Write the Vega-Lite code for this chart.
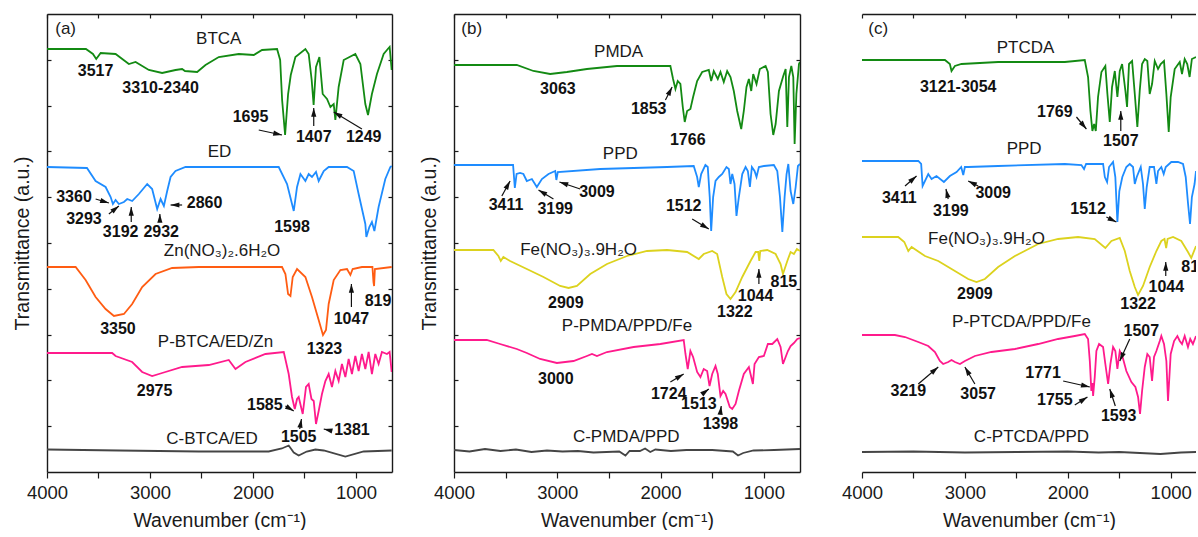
{
"$schema": "https://vega.github.io/schema/vega-lite/v6.json",
"padding": {"left": 12, "top": 13, "right": 0, "bottom": 0},
"background": "white",
"bounds": "flush",
"spacing": 62,
"config": {
  "view": {"stroke": null},
  "font": "Liberation Sans",
  "axis": {"domainColor": "#1a1a1a", "domainWidth": 1.4, "tickColor": "#1a1a1a", "tickWidth": 1.2, "grid": false, "labelFont": "Liberation Sans", "titleFont": "Liberation Sans", "labelColor": "#1a1a1a", "titleColor": "#1a1a1a", "titleFontWeight": "normal", "labelFontSize": 18.5, "titleFontSize": 19.5}
},
"datasets": {
"ca": [
{"s":"BTCA","x":4000,"y":423},{"s":"BTCA","x":3622,"y":423},{"s":"BTCA","x":3554,"y":418},{"s":"BTCA","x":3522,"y":413},{"s":"BTCA","x":3479,"y":419},{"s":"BTCA","x":3334,"y":418},{"s":"BTCA","x":3205,"y":408},{"s":"BTCA","x":3140,"y":410},{"s":"BTCA","x":3011,"y":402},{"s":"BTCA","x":2882,"y":399},{"s":"BTCA","x":2752,"y":402},{"s":"BTCA","x":2688,"y":403},{"s":"BTCA","x":2660,"y":401},{"s":"BTCA","x":2542,"y":400},{"s":"BTCA","x":2461,"y":407},{"s":"BTCA","x":2332,"y":415},{"s":"BTCA","x":2138,"y":418},{"s":"BTCA","x":1992,"y":417},{"s":"BTCA","x":1912,"y":422},{"s":"BTCA","x":1766,"y":423},{"s":"BTCA","x":1736,"y":412},{"s":"BTCA","x":1717,"y":372},{"s":"BTCA","x":1688,"y":337},{"s":"BTCA","x":1659,"y":378},{"s":"BTCA","x":1633,"y":397},{"s":"BTCA","x":1588,"y":415},{"s":"BTCA","x":1491,"y":423},{"s":"BTCA","x":1459,"y":418},{"s":"BTCA","x":1430,"y":392},{"s":"BTCA","x":1411,"y":367},{"s":"BTCA","x":1388,"y":405},{"s":"BTCA","x":1355,"y":415},{"s":"BTCA","x":1323,"y":378},{"s":"BTCA","x":1281,"y":373},{"s":"BTCA","x":1248,"y":365},{"s":"BTCA","x":1216,"y":368},{"s":"BTCA","x":1200,"y":352},{"s":"BTCA","x":1168,"y":385},{"s":"BTCA","x":1119,"y":412},{"s":"BTCA","x":1006,"y":418},{"s":"BTCA","x":957,"y":408},{"s":"BTCA","x":909,"y":368},{"s":"BTCA","x":883,"y":357},{"s":"BTCA","x":845,"y":378},{"s":"BTCA","x":796,"y":398},{"s":"BTCA","x":731,"y":418},{"s":"BTCA","x":699,"y":422},{"s":"BTCA","x":673,"y":425},{"s":"BTCA","x":653,"y":402},
{"s":"ED","x":4000,"y":305},{"s":"ED","x":3612,"y":304},{"s":"ED","x":3528,"y":291},{"s":"ED","x":3431,"y":285},{"s":"ED","x":3382,"y":275},{"s":"ED","x":3360,"y":268},{"s":"ED","x":3334,"y":272},{"s":"ED","x":3302,"y":268},{"s":"ED","x":3253,"y":270},{"s":"ED","x":3221,"y":273},{"s":"ED","x":3173,"y":271},{"s":"ED","x":3108,"y":278},{"s":"ED","x":3027,"y":288},{"s":"ED","x":2979,"y":283},{"s":"ED","x":2930,"y":263},{"s":"ED","x":2897,"y":273},{"s":"ED","x":2865,"y":266},{"s":"ED","x":2833,"y":281},{"s":"ED","x":2800,"y":295},{"s":"ED","x":2752,"y":301},{"s":"ED","x":2655,"y":305},{"s":"ED","x":1750,"y":305},{"s":"ED","x":1669,"y":288},{"s":"ED","x":1604,"y":261},{"s":"ED","x":1572,"y":285},{"s":"ED","x":1539,"y":298},{"s":"ED","x":1491,"y":291},{"s":"ED","x":1459,"y":298},{"s":"ED","x":1427,"y":295},{"s":"ED","x":1388,"y":300},{"s":"ED","x":1362,"y":291},{"s":"ED","x":1313,"y":301},{"s":"ED","x":1265,"y":305},{"s":"ED","x":1087,"y":305},{"s":"ED","x":1022,"y":301},{"s":"ED","x":974,"y":278},{"s":"ED","x":909,"y":248},{"s":"ED","x":899,"y":235},{"s":"ED","x":870,"y":245},{"s":"ED","x":845,"y":250},{"s":"ED","x":821,"y":241},{"s":"ED","x":780,"y":265},{"s":"ED","x":715,"y":293},{"s":"ED","x":666,"y":305},{"s":"ED","x":653,"y":306},
{"s":"Zn","x":4000,"y":205},{"s":"Zn","x":3722,"y":205},{"s":"Zn","x":3625,"y":192},{"s":"Zn","x":3528,"y":175},{"s":"Zn","x":3431,"y":163},{"s":"Zn","x":3350,"y":156},{"s":"Zn","x":3253,"y":158},{"s":"Zn","x":3173,"y":168},{"s":"Zn","x":3076,"y":185},{"s":"Zn","x":2946,"y":198},{"s":"Zn","x":2785,"y":204},{"s":"Zn","x":2526,"y":205},{"s":"Zn","x":1718,"y":205},{"s":"Zn","x":1685,"y":198},{"s":"Zn","x":1659,"y":178},{"s":"Zn","x":1636,"y":176},{"s":"Zn","x":1614,"y":195},{"s":"Zn","x":1572,"y":203},{"s":"Zn","x":1491,"y":195},{"s":"Zn","x":1427,"y":175},{"s":"Zn","x":1362,"y":152},{"s":"Zn","x":1320,"y":137},{"s":"Zn","x":1291,"y":142},{"s":"Zn","x":1265,"y":168},{"s":"Zn","x":1216,"y":192},{"s":"Zn","x":1151,"y":202},{"s":"Zn","x":1087,"y":203},{"s":"Zn","x":1054,"y":197},{"s":"Zn","x":1032,"y":203},{"s":"Zn","x":942,"y":205},{"s":"Zn","x":840,"y":205},{"s":"Zn","x":830,"y":190},{"s":"Zn","x":824,"y":186},{"s":"Zn","x":816,"y":203},{"s":"Zn","x":653,"y":205},
{"s":"P-BTCA/ED/Zn","x":4000,"y":119},{"s":"P-BTCA/ED/Zn","x":3367,"y":119},{"s":"P-BTCA/ED/Zn","x":3334,"y":116},{"s":"P-BTCA/ED/Zn","x":3173,"y":110},{"s":"P-BTCA/ED/Zn","x":3076,"y":100},{"s":"P-BTCA/ED/Zn","x":2979,"y":96},{"s":"P-BTCA/ED/Zn","x":2882,"y":99},{"s":"P-BTCA/ED/Zn","x":2688,"y":105},{"s":"P-BTCA/ED/Zn","x":2429,"y":107},{"s":"P-BTCA/ED/Zn","x":2235,"y":112},{"s":"P-BTCA/ED/Zn","x":2170,"y":103},{"s":"P-BTCA/ED/Zn","x":2073,"y":110},{"s":"P-BTCA/ED/Zn","x":1879,"y":118},{"s":"P-BTCA/ED/Zn","x":1701,"y":120},{"s":"P-BTCA/ED/Zn","x":1653,"y":98},{"s":"P-BTCA/ED/Zn","x":1621,"y":75},{"s":"P-BTCA/ED/Zn","x":1594,"y":63},{"s":"P-BTCA/ED/Zn","x":1572,"y":73},{"s":"P-BTCA/ED/Zn","x":1556,"y":75},{"s":"P-BTCA/ED/Zn","x":1517,"y":58},{"s":"P-BTCA/ED/Zn","x":1485,"y":85},{"s":"P-BTCA/ED/Zn","x":1459,"y":88},{"s":"P-BTCA/ED/Zn","x":1432,"y":73},{"s":"P-BTCA/ED/Zn","x":1410,"y":71},{"s":"P-BTCA/ED/Zn","x":1388,"y":48},{"s":"P-BTCA/ED/Zn","x":1362,"y":61},{"s":"P-BTCA/ED/Zn","x":1330,"y":78},{"s":"P-BTCA/ED/Zn","x":1297,"y":91},{"s":"P-BTCA/ED/Zn","x":1265,"y":98},{"s":"P-BTCA/ED/Zn","x":1233,"y":85},{"s":"P-BTCA/ED/Zn","x":1200,"y":101},{"s":"P-BTCA/ED/Zn","x":1168,"y":91},{"s":"P-BTCA/ED/Zn","x":1136,"y":108},{"s":"P-BTCA/ED/Zn","x":1103,"y":95},{"s":"P-BTCA/ED/Zn","x":1071,"y":113},{"s":"P-BTCA/ED/Zn","x":1039,"y":98},{"s":"P-BTCA/ED/Zn","x":1006,"y":116},{"s":"P-BTCA/ED/Zn","x":974,"y":101},{"s":"P-BTCA/ED/Zn","x":942,"y":118},{"s":"P-BTCA/ED/Zn","x":909,"y":103},{"s":"P-BTCA/ED/Zn","x":877,"y":120},{"s":"P-BTCA/ED/Zn","x":845,"y":98},{"s":"P-BTCA/ED/Zn","x":812,"y":118},{"s":"P-BTCA/ED/Zn","x":780,"y":108},{"s":"P-BTCA/ED/Zn","x":748,"y":120},{"s":"P-BTCA/ED/Zn","x":699,"y":118},{"s":"P-BTCA/ED/Zn","x":673,"y":120},{"s":"P-BTCA/ED/Zn","x":653,"y":100},
{"s":"C-BTCA/ED","x":4000,"y":22.5},{"s":"C-BTCA/ED","x":3300,"y":21.5},{"s":"C-BTCA/ED","x":2526,"y":20.5},{"s":"C-BTCA/ED","x":1847,"y":20.5},{"s":"C-BTCA/ED","x":1720,"y":23.5},{"s":"C-BTCA/ED","x":1653,"y":26.5},{"s":"C-BTCA/ED","x":1604,"y":19.5},{"s":"C-BTCA/ED","x":1556,"y":16.5},{"s":"C-BTCA/ED","x":1478,"y":20.5},{"s":"C-BTCA/ED","x":1394,"y":22.5},{"s":"C-BTCA/ED","x":1313,"y":21.5},{"s":"C-BTCA/ED","x":1103,"y":15.5},{"s":"C-BTCA/ED","x":925,"y":20.5},{"s":"C-BTCA/ED","x":653,"y":21.5}
],
"cb": [
{"s":"PMDA","x":4000,"y":407},{"s":"PMDA","x":3392,"y":407},{"s":"PMDA","x":3231,"y":401},{"s":"PMDA","x":3069,"y":398},{"s":"PMDA","x":2907,"y":400},{"s":"PMDA","x":2713,"y":403},{"s":"PMDA","x":2422,"y":406},{"s":"PMDA","x":1905,"y":406},{"s":"PMDA","x":1879,"y":393},{"s":"PMDA","x":1856,"y":383},{"s":"PMDA","x":1834,"y":391},{"s":"PMDA","x":1808,"y":388},{"s":"PMDA","x":1785,"y":365},{"s":"PMDA","x":1766,"y":350},{"s":"PMDA","x":1743,"y":361},{"s":"PMDA","x":1711,"y":363},{"s":"PMDA","x":1685,"y":375},{"s":"PMDA","x":1646,"y":391},{"s":"PMDA","x":1597,"y":400},{"s":"PMDA","x":1533,"y":402},{"s":"PMDA","x":1510,"y":391},{"s":"PMDA","x":1485,"y":401},{"s":"PMDA","x":1446,"y":393},{"s":"PMDA","x":1420,"y":400},{"s":"PMDA","x":1388,"y":390},{"s":"PMDA","x":1355,"y":401},{"s":"PMDA","x":1323,"y":395},{"s":"PMDA","x":1291,"y":381},{"s":"PMDA","x":1258,"y":361},{"s":"PMDA","x":1219,"y":343},{"s":"PMDA","x":1194,"y":361},{"s":"PMDA","x":1168,"y":385},{"s":"PMDA","x":1145,"y":393},{"s":"PMDA","x":1122,"y":381},{"s":"PMDA","x":1103,"y":398},{"s":"PMDA","x":1071,"y":388},{"s":"PMDA","x":1039,"y":403},{"s":"PMDA","x":983,"y":406},{"s":"PMDA","x":961,"y":400},{"s":"PMDA","x":935,"y":358},{"s":"PMDA","x":909,"y":337},{"s":"PMDA","x":886,"y":348},{"s":"PMDA","x":854,"y":381},{"s":"PMDA","x":812,"y":396},{"s":"PMDA","x":789,"y":403},{"s":"PMDA","x":773,"y":345},{"s":"PMDA","x":757,"y":395},{"s":"PMDA","x":734,"y":406},{"s":"PMDA","x":715,"y":395},{"s":"PMDA","x":702,"y":328},{"s":"PMDA","x":685,"y":378},{"s":"PMDA","x":660,"y":408},{"s":"PMDA","x":650,"y":410},
{"s":"PPD","x":4000,"y":307},{"s":"PPD","x":3428,"y":307},{"s":"PPD","x":3411,"y":284},{"s":"PPD","x":3394,"y":298},{"s":"PPD","x":3360,"y":299},{"s":"PPD","x":3328,"y":298},{"s":"PPD","x":3295,"y":291},{"s":"PPD","x":3246,"y":293},{"s":"PPD","x":3198,"y":285},{"s":"PPD","x":3149,"y":293},{"s":"PPD","x":3085,"y":298},{"s":"PPD","x":3020,"y":301},{"s":"PPD","x":3009,"y":292},{"s":"PPD","x":2995,"y":300},{"s":"PPD","x":2584,"y":303},{"s":"PPD","x":1937,"y":305},{"s":"PPD","x":1679,"y":306},{"s":"PPD","x":1646,"y":295},{"s":"PPD","x":1630,"y":285},{"s":"PPD","x":1607,"y":298},{"s":"PPD","x":1566,"y":307},{"s":"PPD","x":1543,"y":305},{"s":"PPD","x":1524,"y":275},{"s":"PPD","x":1510,"y":241},{"s":"PPD","x":1491,"y":275},{"s":"PPD","x":1468,"y":291},{"s":"PPD","x":1436,"y":295},{"s":"PPD","x":1403,"y":298},{"s":"PPD","x":1362,"y":305},{"s":"PPD","x":1339,"y":303},{"s":"PPD","x":1323,"y":288},{"s":"PPD","x":1306,"y":298},{"s":"PPD","x":1284,"y":288},{"s":"PPD","x":1265,"y":256},{"s":"PPD","x":1242,"y":275},{"s":"PPD","x":1209,"y":298},{"s":"PPD","x":1177,"y":305},{"s":"PPD","x":1155,"y":301},{"s":"PPD","x":1135,"y":285},{"s":"PPD","x":1116,"y":305},{"s":"PPD","x":1090,"y":301},{"s":"PPD","x":1071,"y":295},{"s":"PPD","x":1048,"y":305},{"s":"PPD","x":999,"y":306},{"s":"PPD","x":903,"y":307},{"s":"PPD","x":870,"y":301},{"s":"PPD","x":844,"y":275},{"s":"PPD","x":821,"y":240},{"s":"PPD","x":799,"y":275},{"s":"PPD","x":780,"y":298},{"s":"PPD","x":763,"y":308},{"s":"PPD","x":741,"y":281},{"s":"PPD","x":715,"y":268},{"s":"PPD","x":692,"y":285},{"s":"PPD","x":670,"y":306},{"s":"PPD","x":650,"y":308},
{"s":"Fe","x":4000,"y":222},{"s":"Fe","x":3619,"y":222},{"s":"Fe","x":3570,"y":216},{"s":"Fe","x":3547,"y":211},{"s":"Fe","x":3522,"y":215},{"s":"Fe","x":3457,"y":211},{"s":"Fe","x":3295,"y":203},{"s":"Fe","x":3134,"y":195},{"s":"Fe","x":2972,"y":186},{"s":"Fe","x":2891,"y":184},{"s":"Fe","x":2810,"y":186},{"s":"Fe","x":2681,"y":198},{"s":"Fe","x":2519,"y":208},{"s":"Fe","x":2325,"y":216},{"s":"Fe","x":2131,"y":221},{"s":"Fe","x":1937,"y":222},{"s":"Fe","x":1743,"y":220},{"s":"Fe","x":1630,"y":213},{"s":"Fe","x":1582,"y":218},{"s":"Fe","x":1500,"y":221},{"s":"Fe","x":1452,"y":218},{"s":"Fe","x":1403,"y":195},{"s":"Fe","x":1362,"y":178},{"s":"Fe","x":1323,"y":173},{"s":"Fe","x":1274,"y":180},{"s":"Fe","x":1209,"y":195},{"s":"Fe","x":1129,"y":211},{"s":"Fe","x":1080,"y":220},{"s":"Fe","x":1055,"y":220},{"s":"Fe","x":1044,"y":211},{"s":"Fe","x":1035,"y":221},{"s":"Fe","x":967,"y":222},{"s":"Fe","x":886,"y":218},{"s":"Fe","x":838,"y":208},{"s":"Fe","x":815,"y":198},{"s":"Fe","x":773,"y":211},{"s":"Fe","x":741,"y":220},{"s":"Fe","x":709,"y":218},{"s":"Fe","x":680,"y":223},{"s":"Fe","x":650,"y":221},
{"s":"P-PMDA/PPD/Fe","x":4000,"y":132},{"s":"P-PMDA/PPD/Fe","x":3683,"y":132},{"s":"P-PMDA/PPD/Fe","x":3554,"y":128},{"s":"P-PMDA/PPD/Fe","x":3392,"y":123},{"s":"P-PMDA/PPD/Fe","x":3295,"y":119},{"s":"P-PMDA/PPD/Fe","x":3166,"y":113},{"s":"P-PMDA/PPD/Fe","x":3004,"y":109},{"s":"P-PMDA/PPD/Fe","x":2843,"y":111},{"s":"P-PMDA/PPD/Fe","x":2713,"y":116},{"s":"P-PMDA/PPD/Fe","x":2664,"y":118},{"s":"P-PMDA/PPD/Fe","x":2616,"y":116},{"s":"P-PMDA/PPD/Fe","x":2519,"y":120},{"s":"P-PMDA/PPD/Fe","x":2261,"y":125},{"s":"P-PMDA/PPD/Fe","x":2002,"y":128},{"s":"P-PMDA/PPD/Fe","x":1776,"y":132},{"s":"P-PMDA/PPD/Fe","x":1759,"y":118},{"s":"P-PMDA/PPD/Fe","x":1737,"y":103},{"s":"P-PMDA/PPD/Fe","x":1711,"y":121},{"s":"P-PMDA/PPD/Fe","x":1685,"y":115},{"s":"P-PMDA/PPD/Fe","x":1646,"y":100},{"s":"P-PMDA/PPD/Fe","x":1614,"y":95},{"s":"P-PMDA/PPD/Fe","x":1582,"y":103},{"s":"P-PMDA/PPD/Fe","x":1549,"y":101},{"s":"P-PMDA/PPD/Fe","x":1526,"y":86},{"s":"P-PMDA/PPD/Fe","x":1500,"y":98},{"s":"P-PMDA/PPD/Fe","x":1468,"y":106},{"s":"P-PMDA/PPD/Fe","x":1446,"y":98},{"s":"P-PMDA/PPD/Fe","x":1420,"y":76},{"s":"P-PMDA/PPD/Fe","x":1394,"y":81},{"s":"P-PMDA/PPD/Fe","x":1371,"y":78},{"s":"P-PMDA/PPD/Fe","x":1330,"y":65},{"s":"P-PMDA/PPD/Fe","x":1306,"y":63},{"s":"P-PMDA/PPD/Fe","x":1274,"y":68},{"s":"P-PMDA/PPD/Fe","x":1242,"y":81},{"s":"P-PMDA/PPD/Fe","x":1194,"y":98},{"s":"P-PMDA/PPD/Fe","x":1145,"y":105},{"s":"P-PMDA/PPD/Fe","x":1122,"y":95},{"s":"P-PMDA/PPD/Fe","x":1106,"y":88},{"s":"P-PMDA/PPD/Fe","x":1090,"y":108},{"s":"P-PMDA/PPD/Fe","x":1048,"y":115},{"s":"P-PMDA/PPD/Fe","x":1000,"y":116},{"s":"P-PMDA/PPD/Fe","x":961,"y":128},{"s":"P-PMDA/PPD/Fe","x":918,"y":128},{"s":"P-PMDA/PPD/Fe","x":870,"y":133},{"s":"P-PMDA/PPD/Fe","x":838,"y":125},{"s":"P-PMDA/PPD/Fe","x":815,"y":108},{"s":"P-PMDA/PPD/Fe","x":789,"y":115},{"s":"P-PMDA/PPD/Fe","x":767,"y":121},{"s":"P-PMDA/PPD/Fe","x":741,"y":126},{"s":"P-PMDA/PPD/Fe","x":709,"y":129},{"s":"P-PMDA/PPD/Fe","x":676,"y":133},{"s":"P-PMDA/PPD/Fe","x":650,"y":134},
{"s":"C-PMDA/PPD","x":4000,"y":22},{"s":"C-PMDA/PPD","x":3850,"y":20.5},{"s":"C-PMDA/PPD","x":3700,"y":23},{"s":"C-PMDA/PPD","x":3550,"y":21},{"s":"C-PMDA/PPD","x":3400,"y":22.5},{"s":"C-PMDA/PPD","x":3250,"y":20},{"s":"C-PMDA/PPD","x":3100,"y":21.5},{"s":"C-PMDA/PPD","x":2950,"y":20.5},{"s":"C-PMDA/PPD","x":2800,"y":21},{"s":"C-PMDA/PPD","x":2650,"y":19.5},{"s":"C-PMDA/PPD","x":2400,"y":20.5},{"s":"C-PMDA/PPD","x":2340,"y":16.5},{"s":"C-PMDA/PPD","x":2300,"y":21},{"s":"C-PMDA/PPD","x":2200,"y":21},{"s":"C-PMDA/PPD","x":2150,"y":23.5},{"s":"C-PMDA/PPD","x":2100,"y":20},{"s":"C-PMDA/PPD","x":2050,"y":22.5},{"s":"C-PMDA/PPD","x":1900,"y":21},{"s":"C-PMDA/PPD","x":1750,"y":22},{"s":"C-PMDA/PPD","x":1500,"y":22},{"s":"C-PMDA/PPD","x":1300,"y":20.5},{"s":"C-PMDA/PPD","x":1250,"y":16.5},{"s":"C-PMDA/PPD","x":1200,"y":19},{"s":"C-PMDA/PPD","x":1100,"y":21.5},{"s":"C-PMDA/PPD","x":900,"y":22},{"s":"C-PMDA/PPD","x":650,"y":23}
],
"cc": [
{"s":"PTCDA","x":4000,"y":412},{"s":"PTCDA","x":3194,"y":412},{"s":"PTCDA","x":3146,"y":408},{"s":"PTCDA","x":3130,"y":401},{"s":"PTCDA","x":3097,"y":406},{"s":"PTCDA","x":3033,"y":408},{"s":"PTCDA","x":2677,"y":410},{"s":"PTCDA","x":2029,"y":410},{"s":"PTCDA","x":1835,"y":412},{"s":"PTCDA","x":1803,"y":395},{"s":"PTCDA","x":1780,"y":361},{"s":"PTCDA","x":1761,"y":341},{"s":"PTCDA","x":1744,"y":348},{"s":"PTCDA","x":1728,"y":341},{"s":"PTCDA","x":1706,"y":375},{"s":"PTCDA","x":1673,"y":400},{"s":"PTCDA","x":1635,"y":406},{"s":"PTCDA","x":1615,"y":378},{"s":"PTCDA","x":1592,"y":350},{"s":"PTCDA","x":1570,"y":385},{"s":"PTCDA","x":1543,"y":401},{"s":"PTCDA","x":1518,"y":375},{"s":"PTCDA","x":1495,"y":401},{"s":"PTCDA","x":1472,"y":408},{"s":"PTCDA","x":1440,"y":381},{"s":"PTCDA","x":1424,"y":365},{"s":"PTCDA","x":1405,"y":408},{"s":"PTCDA","x":1375,"y":411},{"s":"PTCDA","x":1349,"y":378},{"s":"PTCDA","x":1324,"y":345},{"s":"PTCDA","x":1301,"y":381},{"s":"PTCDA","x":1278,"y":408},{"s":"PTCDA","x":1252,"y":413},{"s":"PTCDA","x":1227,"y":411},{"s":"PTCDA","x":1204,"y":378},{"s":"PTCDA","x":1181,"y":388},{"s":"PTCDA","x":1155,"y":411},{"s":"PTCDA","x":1123,"y":403},{"s":"PTCDA","x":1097,"y":408},{"s":"PTCDA","x":1065,"y":411},{"s":"PTCDA","x":1042,"y":378},{"s":"PTCDA","x":1019,"y":340},{"s":"PTCDA","x":1000,"y":375},{"s":"PTCDA","x":961,"y":403},{"s":"PTCDA","x":912,"y":410},{"s":"PTCDA","x":890,"y":398},{"s":"PTCDA","x":864,"y":413},{"s":"PTCDA","x":839,"y":408},{"s":"PTCDA","x":816,"y":395},{"s":"PTCDA","x":794,"y":413},{"s":"PTCDA","x":754,"y":415},
{"s":"PPD","x":4000,"y":311},{"s":"PPD","x":3453,"y":311},{"s":"PPD","x":3425,"y":308},{"s":"PPD","x":3411,"y":286},{"s":"PPD","x":3356,"y":298},{"s":"PPD","x":3324,"y":293},{"s":"PPD","x":3276,"y":296},{"s":"PPD","x":3204,"y":290},{"s":"PPD","x":3146,"y":296},{"s":"PPD","x":3081,"y":300},{"s":"PPD","x":3036,"y":305},{"s":"PPD","x":3016,"y":297},{"s":"PPD","x":3000,"y":305},{"s":"PPD","x":2968,"y":305},{"s":"PPD","x":2677,"y":306},{"s":"PPD","x":2029,"y":308},{"s":"PPD","x":1868,"y":307},{"s":"PPD","x":1842,"y":303},{"s":"PPD","x":1822,"y":308},{"s":"PPD","x":1657,"y":308},{"s":"PPD","x":1640,"y":295},{"s":"PPD","x":1618,"y":290},{"s":"PPD","x":1599,"y":305},{"s":"PPD","x":1560,"y":310},{"s":"PPD","x":1538,"y":295},{"s":"PPD","x":1518,"y":250},{"s":"PPD","x":1499,"y":281},{"s":"PPD","x":1470,"y":295},{"s":"PPD","x":1431,"y":305},{"s":"PPD","x":1398,"y":308},{"s":"PPD","x":1366,"y":305},{"s":"PPD","x":1349,"y":288},{"s":"PPD","x":1330,"y":295},{"s":"PPD","x":1291,"y":305},{"s":"PPD","x":1269,"y":288},{"s":"PPD","x":1252,"y":263},{"s":"PPD","x":1233,"y":285},{"s":"PPD","x":1204,"y":305},{"s":"PPD","x":1162,"y":305},{"s":"PPD","x":1139,"y":288},{"s":"PPD","x":1123,"y":301},{"s":"PPD","x":1091,"y":305},{"s":"PPD","x":1068,"y":298},{"s":"PPD","x":1048,"y":305},{"s":"PPD","x":994,"y":310},{"s":"PPD","x":929,"y":310},{"s":"PPD","x":880,"y":308},{"s":"PPD","x":854,"y":295},{"s":"PPD","x":831,"y":268},{"s":"PPD","x":812,"y":248},{"s":"PPD","x":794,"y":275},{"s":"PPD","x":768,"y":288},{"s":"PPD","x":754,"y":301},
{"s":"Fe","x":4000,"y":235},{"s":"Fe","x":3648,"y":235},{"s":"Fe","x":3589,"y":230},{"s":"Fe","x":3550,"y":221},{"s":"Fe","x":3518,"y":225},{"s":"Fe","x":3388,"y":216},{"s":"Fe","x":3259,"y":211},{"s":"Fe","x":3097,"y":201},{"s":"Fe","x":2968,"y":193},{"s":"Fe","x":2887,"y":190},{"s":"Fe","x":2806,"y":193},{"s":"Fe","x":2677,"y":205},{"s":"Fe","x":2514,"y":216},{"s":"Fe","x":2288,"y":228},{"s":"Fe","x":2094,"y":233},{"s":"Fe","x":1900,"y":235},{"s":"Fe","x":1738,"y":233},{"s":"Fe","x":1635,"y":224},{"s":"Fe","x":1576,"y":231},{"s":"Fe","x":1495,"y":234},{"s":"Fe","x":1446,"y":221},{"s":"Fe","x":1398,"y":201},{"s":"Fe","x":1349,"y":185},{"s":"Fe","x":1317,"y":177},{"s":"Fe","x":1269,"y":186},{"s":"Fe","x":1204,"y":205},{"s":"Fe","x":1139,"y":221},{"s":"Fe","x":1091,"y":231},{"s":"Fe","x":1060,"y":233},{"s":"Fe","x":1044,"y":224},{"s":"Fe","x":1030,"y":233},{"s":"Fe","x":977,"y":235},{"s":"Fe","x":897,"y":231},{"s":"Fe","x":832,"y":220},{"s":"Fe","x":800,"y":214},{"s":"Fe","x":754,"y":226},
{"s":"P-PTCDA/PPD/Fe","x":4000,"y":137},{"s":"P-PTCDA/PPD/Fe","x":3680,"y":137},{"s":"P-PTCDA/PPD/Fe","x":3582,"y":135},{"s":"P-PTCDA/PPD/Fe","x":3453,"y":130},{"s":"P-PTCDA/PPD/Fe","x":3356,"y":126},{"s":"P-PTCDA/PPD/Fe","x":3291,"y":120},{"s":"P-PTCDA/PPD/Fe","x":3243,"y":111},{"s":"P-PTCDA/PPD/Fe","x":3211,"y":108},{"s":"P-PTCDA/PPD/Fe","x":3162,"y":110},{"s":"P-PTCDA/PPD/Fe","x":3130,"y":112},{"s":"P-PTCDA/PPD/Fe","x":3097,"y":110},{"s":"P-PTCDA/PPD/Fe","x":3048,"y":108},{"s":"P-PTCDA/PPD/Fe","x":3000,"y":111},{"s":"P-PTCDA/PPD/Fe","x":2903,"y":116},{"s":"P-PTCDA/PPD/Fe","x":2742,"y":120},{"s":"P-PTCDA/PPD/Fe","x":2514,"y":123},{"s":"P-PTCDA/PPD/Fe","x":2288,"y":128},{"s":"P-PTCDA/PPD/Fe","x":2094,"y":133},{"s":"P-PTCDA/PPD/Fe","x":1932,"y":136},{"s":"P-PTCDA/PPD/Fe","x":1835,"y":138},{"s":"P-PTCDA/PPD/Fe","x":1803,"y":133},{"s":"P-PTCDA/PPD/Fe","x":1786,"y":111},{"s":"P-PTCDA/PPD/Fe","x":1771,"y":81},{"s":"P-PTCDA/PPD/Fe","x":1761,"y":89},{"s":"P-PTCDA/PPD/Fe","x":1754,"y":76},{"s":"P-PTCDA/PPD/Fe","x":1738,"y":95},{"s":"P-PTCDA/PPD/Fe","x":1722,"y":121},{"s":"P-PTCDA/PPD/Fe","x":1696,"y":128},{"s":"P-PTCDA/PPD/Fe","x":1657,"y":125},{"s":"P-PTCDA/PPD/Fe","x":1635,"y":108},{"s":"P-PTCDA/PPD/Fe","x":1608,"y":88},{"s":"P-PTCDA/PPD/Fe","x":1586,"y":108},{"s":"P-PTCDA/PPD/Fe","x":1560,"y":125},{"s":"P-PTCDA/PPD/Fe","x":1538,"y":121},{"s":"P-PTCDA/PPD/Fe","x":1518,"y":103},{"s":"P-PTCDA/PPD/Fe","x":1495,"y":121},{"s":"P-PTCDA/PPD/Fe","x":1470,"y":116},{"s":"P-PTCDA/PPD/Fe","x":1431,"y":101},{"s":"P-PTCDA/PPD/Fe","x":1382,"y":90},{"s":"P-PTCDA/PPD/Fe","x":1343,"y":85},{"s":"P-PTCDA/PPD/Fe","x":1317,"y":75},{"s":"P-PTCDA/PPD/Fe","x":1298,"y":58},{"s":"P-PTCDA/PPD/Fe","x":1278,"y":81},{"s":"P-PTCDA/PPD/Fe","x":1252,"y":105},{"s":"P-PTCDA/PPD/Fe","x":1227,"y":118},{"s":"P-PTCDA/PPD/Fe","x":1204,"y":115},{"s":"P-PTCDA/PPD/Fe","x":1181,"y":91},{"s":"P-PTCDA/PPD/Fe","x":1162,"y":115},{"s":"P-PTCDA/PPD/Fe","x":1139,"y":121},{"s":"P-PTCDA/PPD/Fe","x":1106,"y":131},{"s":"P-PTCDA/PPD/Fe","x":1091,"y":136},{"s":"P-PTCDA/PPD/Fe","x":1065,"y":128},{"s":"P-PTCDA/PPD/Fe","x":1042,"y":111},{"s":"P-PTCDA/PPD/Fe","x":1026,"y":71},{"s":"P-PTCDA/PPD/Fe","x":1000,"y":118},{"s":"P-PTCDA/PPD/Fe","x":967,"y":131},{"s":"P-PTCDA/PPD/Fe","x":935,"y":136},{"s":"P-PTCDA/PPD/Fe","x":912,"y":131},{"s":"P-PTCDA/PPD/Fe","x":890,"y":128},{"s":"P-PTCDA/PPD/Fe","x":864,"y":136},{"s":"P-PTCDA/PPD/Fe","x":832,"y":125},{"s":"P-PTCDA/PPD/Fe","x":810,"y":133},{"s":"P-PTCDA/PPD/Fe","x":784,"y":128},{"s":"P-PTCDA/PPD/Fe","x":754,"y":136},
{"s":"C-PTCDA/PPD","x":4000,"y":20},{"s":"C-PTCDA/PPD","x":3500,"y":20.5},{"s":"C-PTCDA/PPD","x":3000,"y":19.5},{"s":"C-PTCDA/PPD","x":2500,"y":20},{"s":"C-PTCDA/PPD","x":2000,"y":20.5},{"s":"C-PTCDA/PPD","x":1700,"y":19.5},{"s":"C-PTCDA/PPD","x":1500,"y":20},{"s":"C-PTCDA/PPD","x":1300,"y":19},{"s":"C-PTCDA/PPD","x":1100,"y":18},{"s":"C-PTCDA/PPD","x":900,"y":19.5},{"s":"C-PTCDA/PPD","x":754,"y":20}
],
"ta": [
{"t":"(a)","x":3819,"y":443,"k":"n"},{"t":"BTCA","x":2332,"y":433,"k":"n"},{"t":"ED","x":2325,"y":320,"k":"n"},{"t":"Zn(NO₃)₂.6H₂O","x":2300,"y":221,"k":"n"},{"t":"P-BTCA/ED/Zn","x":2364,"y":130,"k":"n"},{"t":"C-BTCA/ED","x":2397,"y":33,"k":"n"},
{"t":"3517","x":3528,"y":401,"k":"p"},{"t":"3310-2340","x":2897,"y":384,"k":"p"},{"t":"1695","x":2024,"y":355,"k":"p"},{"t":"1407","x":1410,"y":335,"k":"p"},{"t":"1249","x":925,"y":335,"k":"p"},{"t":"3360","x":3738,"y":275,"k":"p"},{"t":"3293","x":3641,"y":253,"k":"p"},{"t":"3192","x":3285,"y":240,"k":"p"},{"t":"2932","x":2891,"y":240,"k":"p"},{"t":"2860","x":2470,"y":269,"k":"p"},{"t":"1598","x":1621,"y":245,"k":"p"},{"t":"3350","x":3311,"y":143,"k":"p"},{"t":"1047","x":1044,"y":153,"k":"p"},{"t":"819","x":786,"y":171,"k":"p"},{"t":"1323","x":1306,"y":123,"k":"p"},{"t":"2975","x":2955,"y":81,"k":"p"},{"t":"1585","x":1885,"y":67,"k":"p"},{"t":"1505","x":1556,"y":35,"k":"p"},{"t":"1381","x":1039,"y":42,"k":"p"}
],
"tb": [
{"t":"(b)","x":3828,"y":443,"k":"n"},{"t":"PMDA","x":2406,"y":420,"k":"n"},{"t":"PPD","x":2390,"y":318,"k":"n"},{"t":"Fe(NO₃)₃.9H₂O","x":2794,"y":222,"k":"n"},{"t":"P-PMDA/PPD/Fe","x":2325,"y":146,"k":"n"},{"t":"C-PMDA/PPD","x":2332,"y":35,"k":"n"},
{"t":"3063","x":2994,"y":383,"k":"p"},{"t":"1853","x":2115,"y":363,"k":"p"},{"t":"1766","x":1737,"y":332,"k":"p"},{"t":"3411","x":3496,"y":267,"k":"p"},{"t":"3199","x":3020,"y":263,"k":"p"},{"t":"3009","x":2616,"y":280,"k":"p"},{"t":"1512","x":1776,"y":266,"k":"p"},{"t":"2909","x":2917,"y":169,"k":"p"},{"t":"1322","x":1281,"y":160,"k":"p"},{"t":"1044","x":1080,"y":176,"k":"p"},{"t":"815","x":806,"y":190,"k":"p"},{"t":"3000","x":3014,"y":93,"k":"p"},{"t":"1724","x":1921,"y":78,"k":"p"},{"t":"1513","x":1630,"y":68,"k":"p"},{"t":"1398","x":1420,"y":48,"k":"p"}
],
"tc": [
{"t":"(c)","x":3842,"y":443,"k":"n"},{"t":"PTCDA","x":2411,"y":424,"k":"n"},{"t":"PPD","x":2424,"y":323,"k":"n"},{"t":"Fe(NO₃)₃.9H₂O","x":2790,"y":233,"k":"n"},{"t":"P-PTCDA/PPD/Fe","x":2450,"y":150,"k":"n"},{"t":"C-PTCDA/PPD","x":2353,"y":35,"k":"n"},
{"t":"3121-3054","x":3065,"y":385,"k":"p"},{"t":"1769","x":2126,"y":360,"k":"p"},{"t":"1507","x":1485,"y":331,"k":"p"},{"t":"3411","x":3638,"y":274,"k":"p"},{"t":"3199","x":3136,"y":261,"k":"p"},{"t":"3009","x":2725,"y":279,"k":"p"},{"t":"1512","x":1803,"y":263,"k":"p"},{"t":"2909","x":2903,"y":178,"k":"p"},{"t":"1322","x":1317,"y":168,"k":"p"},{"t":"1044","x":1042,"y":185,"k":"p"},{"t":"815","x":767,"y":205,"k":"p"},{"t":"1507","x":1285,"y":141,"k":"p"},{"t":"3219","x":3550,"y":81,"k":"p"},{"t":"3057","x":2871,"y":78,"k":"p"},{"t":"1771","x":2240,"y":99,"k":"p"},{"t":"1755","x":2126,"y":72,"k":"p"},{"t":"1593","x":1505,"y":56,"k":"p"}
],
"aa": [
{"x":1944,"y":342,"x2":1718,"y2":337},{"x":1410,"y":346,"x2":1410,"y2":364},{"x":942,"y":343,"x2":1216,"y2":360},{"x":3528,"y":273,"x2":3399,"y2":269},{"x":3399,"y":258,"x2":3302,"y2":266},{"x":3182,"y":250,"x2":3182,"y2":265},{"x":2904,"y":250,"x2":2904,"y2":258},{"x":2688,"y":267,"x2":2800,"y2":267},{"x":1044,"y":165,"x2":1044,"y2":188},{"x":1685,"y":66,"x2":1604,"y2":61},{"x":1546,"y":43,"x2":1529,"y2":53},{"x":1233,"y":41,"x2":1313,"y2":43}
],
"ab": [
{"x":1953,"y":372,"x2":1888,"y2":385},{"x":3537,"y":276,"x2":3457,"y2":291},{"x":3037,"y":273,"x2":3182,"y2":282},{"x":2778,"y":283,"x2":2979,"y2":290},{"x":1694,"y":253,"x2":1533,"y2":243},{"x":1048,"y":188,"x2":1048,"y2":203},{"x":1905,"y":90,"x2":1776,"y2":98},{"x":1597,"y":78,"x2":1533,"y2":83},{"x":1420,"y":60,"x2":1413,"y2":66}
],
"ac": [
{"x":1916,"y":355,"x2":1819,"y2":343},{"x":1485,"y":341,"x2":1485,"y2":361},{"x":3582,"y":286,"x2":3470,"y2":296},{"x":3162,"y":273,"x2":3184,"y2":283},{"x":2871,"y":286,"x2":2968,"y2":291},{"x":1625,"y":255,"x2":1528,"y2":250},{"x":1048,"y":196,"x2":1048,"y2":210},{"x":1398,"y":133,"x2":1495,"y2":111},{"x":3453,"y":88,"x2":3259,"y2":105},{"x":2903,"y":88,"x2":3000,"y2":105},{"x":2045,"y":91,"x2":1786,"y2":85},{"x":1932,"y":67,"x2":1809,"y2":75},{"x":1538,"y":66,"x2":1592,"y2":83}
]
},
"hconcat": [
{
"width": 345, "height": 458,
"layer": [
{"data": {"name": "ca"}, "mark": {"type": "line", "strokeWidth": 1.8, "clip": true},
 "encoding": {
  "x": {"field": "x", "type": "quantitative", "scale": {"domain": [650, 4000], "reverse": true, "nice": false, "zero": false},
        "axis": {"orient": "bottom", "values": [4000,3500,3000,2500,2000,1500,1000], "format": "d", "labelExpr": "datum.value % 1000 === 0 ? datum.label : ''", "tickSize": 6, "labelPadding": 5, "labelFlush": false, "labelOverlap": false, "title": "Wavenumber (cm⁻¹)", "titlePadding": 10}},
  "y": {"field": "y", "type": "quantitative", "scale": {"domain": [0, 458], "nice": false, "zero": false},
        "axis": {"orient": "left", "values": [45.8,91.6,137.4,183.2,229,274.8,320.6,366.4,412.2], "labels": false, "tickSize": -4, "title": "Transmittance (a.u.)", "titlePadding": 14}},
  "color": {"field": "s", "type": "nominal", "legend": null, "scale": {"domain": ["BTCA","ED","Zn","P-BTCA/ED/Zn","C-BTCA/ED","PMDA","PPD","Fe","P-PMDA/PPD/Fe","C-PMDA/PPD","PTCDA","P-PTCDA/PPD/Fe","C-PTCDA/PPD"], "range": ["#138a13","#1e8cff","#ff5c12","#ff1a8c","#454545","#138a13","#1e8cff","#dcd21e","#ff1a8c","#454545","#138a13","#ff1a8c","#454545"]}}
 }},
{"data": {"name": "aa"}, "mark": {"type": "rule", "strokeWidth": 1.2, "color": "#111111"},
 "encoding": {
  "x": {"field": "x", "type": "quantitative", "axis": {"orient": "top", "values": [4000,3500,3000,2500,2000,1500,1000], "labels": false, "tickSize": -4, "title": null}},
  "y": {"field": "y", "type": "quantitative", "axis": {"orient": "right", "values": [45.8,91.6,137.4,183.2,229,274.8,320.6,366.4,412.2], "labels": false, "tickSize": -4, "title": null}},
  "x2": {"field": "x2"}, "y2": {"field": "y2"}
 }},
{"data": {"name": "aa"}, "transform": [{"calculate": "atan2((datum.x - datum.x2) * 0.103, datum.y2 - datum.y) * 180 / PI", "as": "ang"}],
 "mark": {"type": "point", "shape": "M0,0L0.65,2.2L-0.65,2.2Z", "filled": true, "color": "#111111", "size": 64, "opacity": 1},
 "encoding": {"x": {"field": "x2", "type": "quantitative", "axis": null}, "y": {"field": "y2", "type": "quantitative", "axis": null}, "angle": {"field": "ang", "type": "quantitative", "scale": null}}},
{"data": {"name": "ta"}, "transform": [{"filter": "datum.k === 'n'"}],
 "mark": {"type": "text", "fontSize": 17, "color": "#1a1a1a", "align": "center", "baseline": "middle"},
 "encoding": {"x": {"field": "x", "type": "quantitative", "axis": null}, "y": {"field": "y", "type": "quantitative", "axis": null}, "text": {"field": "t"}}},
{"data": {"name": "ta"}, "transform": [{"filter": "datum.k === 'p'"}],
 "mark": {"type": "text", "fontSize": 16, "fontWeight": "bold", "color": "#111111", "align": "center", "baseline": "middle"},
 "encoding": {"x": {"field": "x", "type": "quantitative", "axis": null}, "y": {"field": "y", "type": "quantitative", "axis": null}, "text": {"field": "t"}}}
]
},
{
"width": 346, "height": 458,
"layer": [
{"data": {"name": "cb"}, "mark": {"type": "line", "strokeWidth": 1.8, "clip": true},
 "encoding": {
  "x": {"field": "x", "type": "quantitative", "scale": {"domain": [650, 4000], "reverse": true, "nice": false, "zero": false},
        "axis": {"orient": "bottom", "values": [4000,3500,3000,2500,2000,1500,1000], "format": "d", "labelExpr": "datum.value % 1000 === 0 ? datum.label : ''", "tickSize": 6, "labelPadding": 5, "labelFlush": false, "labelOverlap": false, "title": "Wavenumber (cm⁻¹)", "titlePadding": 10}},
  "y": {"field": "y", "type": "quantitative", "scale": {"domain": [0, 458], "nice": false, "zero": false},
        "axis": {"orient": "left", "values": [45.8,91.6,137.4,183.2,229,274.8,320.6,366.4,412.2], "labels": false, "tickSize": -4, "title": "Transmittance (a.u.)", "titlePadding": 14}},
  "color": {"field": "s", "type": "nominal", "legend": null, "scale": {"domain": ["BTCA","ED","Zn","P-BTCA/ED/Zn","C-BTCA/ED","PMDA","PPD","Fe","P-PMDA/PPD/Fe","C-PMDA/PPD","PTCDA","P-PTCDA/PPD/Fe","C-PTCDA/PPD"], "range": ["#138a13","#1e8cff","#ff5c12","#ff1a8c","#454545","#138a13","#1e8cff","#dcd21e","#ff1a8c","#454545","#138a13","#ff1a8c","#454545"]}}
 }},
{"data": {"name": "ab"}, "mark": {"type": "rule", "strokeWidth": 1.2, "color": "#111111"},
 "encoding": {
  "x": {"field": "x", "type": "quantitative", "axis": {"orient": "top", "values": [4000,3500,3000,2500,2000,1500,1000], "labels": false, "tickSize": -4, "title": null}},
  "y": {"field": "y", "type": "quantitative", "axis": {"orient": "right", "values": [45.8,91.6,137.4,183.2,229,274.8,320.6,366.4,412.2], "labels": false, "tickSize": -4, "title": null}},
  "x2": {"field": "x2"}, "y2": {"field": "y2"}
 }},
{"data": {"name": "ab"}, "transform": [{"calculate": "atan2((datum.x - datum.x2) * 0.103, datum.y2 - datum.y) * 180 / PI", "as": "ang"}],
 "mark": {"type": "point", "shape": "M0,0L0.65,2.2L-0.65,2.2Z", "filled": true, "color": "#111111", "size": 64, "opacity": 1},
 "encoding": {"x": {"field": "x2", "type": "quantitative", "axis": null}, "y": {"field": "y2", "type": "quantitative", "axis": null}, "angle": {"field": "ang", "type": "quantitative", "scale": null}}},
{"data": {"name": "tb"}, "transform": [{"filter": "datum.k === 'n'"}],
 "mark": {"type": "text", "fontSize": 17, "color": "#1a1a1a", "align": "center", "baseline": "middle"},
 "encoding": {"x": {"field": "x", "type": "quantitative", "axis": null}, "y": {"field": "y", "type": "quantitative", "axis": null}, "text": {"field": "t"}}},
{"data": {"name": "tb"}, "transform": [{"filter": "datum.k === 'p'"}],
 "mark": {"type": "text", "fontSize": 16, "fontWeight": "bold", "color": "#111111", "align": "center", "baseline": "middle"},
 "encoding": {"x": {"field": "x", "type": "quantitative", "axis": null}, "y": {"field": "y", "type": "quantitative", "axis": null}, "text": {"field": "t"}}}
]
},
{
"width": 334, "height": 458,
"layer": [
{"data": {"name": "cc"}, "mark": {"type": "line", "strokeWidth": 1.8, "clip": true},
 "encoding": {
  "x": {"field": "x", "type": "quantitative", "scale": {"domain": [754, 4000], "reverse": true, "nice": false, "zero": false},
        "axis": {"orient": "bottom", "values": [4000,3500,3000,2500,2000,1500,1000], "format": "d", "labelExpr": "datum.value % 1000 === 0 ? datum.label : ''", "tickSize": 6, "labelPadding": 5, "labelFlush": false, "labelOverlap": false, "title": "Wavenumber (cm⁻¹)", "titlePadding": 10}},
  "y": {"field": "y", "type": "quantitative", "scale": {"domain": [0, 458], "nice": false, "zero": false},
        "axis": {"orient": "left", "values": [45.8,91.6,137.4,183.2,229,274.8,320.6,366.4,412.2], "labels": false, "tickSize": -4, "title": "Transmittance (a.u.)", "titlePadding": 14}},
  "color": {"field": "s", "type": "nominal", "legend": null, "scale": {"domain": ["BTCA","ED","Zn","P-BTCA/ED/Zn","C-BTCA/ED","PMDA","PPD","Fe","P-PMDA/PPD/Fe","C-PMDA/PPD","PTCDA","P-PTCDA/PPD/Fe","C-PTCDA/PPD"], "range": ["#138a13","#1e8cff","#ff5c12","#ff1a8c","#454545","#138a13","#1e8cff","#dcd21e","#ff1a8c","#454545","#138a13","#ff1a8c","#454545"]}}
 }},
{"data": {"name": "ac"}, "mark": {"type": "rule", "strokeWidth": 1.2, "color": "#111111"},
 "encoding": {
  "x": {"field": "x", "type": "quantitative", "axis": {"orient": "top", "values": [4000,3500,3000,2500,2000,1500,1000], "labels": false, "tickSize": -4, "title": null}},
  "y": {"field": "y", "type": "quantitative", "axis": null},
  "x2": {"field": "x2"}, "y2": {"field": "y2"}
 }},
{"data": {"name": "ac"}, "transform": [{"calculate": "atan2((datum.x - datum.x2) * 0.103, datum.y2 - datum.y) * 180 / PI", "as": "ang"}],
 "mark": {"type": "point", "shape": "M0,0L0.65,2.2L-0.65,2.2Z", "filled": true, "color": "#111111", "size": 64, "opacity": 1},
 "encoding": {"x": {"field": "x2", "type": "quantitative", "axis": null}, "y": {"field": "y2", "type": "quantitative", "axis": null}, "angle": {"field": "ang", "type": "quantitative", "scale": null}}},
{"data": {"name": "tc"}, "transform": [{"filter": "datum.k === 'n'"}],
 "mark": {"type": "text", "fontSize": 17, "color": "#1a1a1a", "align": "center", "baseline": "middle"},
 "encoding": {"x": {"field": "x", "type": "quantitative", "axis": null}, "y": {"field": "y", "type": "quantitative", "axis": null}, "text": {"field": "t"}}},
{"data": {"name": "tc"}, "transform": [{"filter": "datum.k === 'p'"}],
 "mark": {"type": "text", "fontSize": 16, "fontWeight": "bold", "color": "#111111", "align": "center", "baseline": "middle", "clip": true},
 "encoding": {"x": {"field": "x", "type": "quantitative", "axis": null}, "y": {"field": "y", "type": "quantitative", "axis": null}, "text": {"field": "t"}}}
]
}
]
}
